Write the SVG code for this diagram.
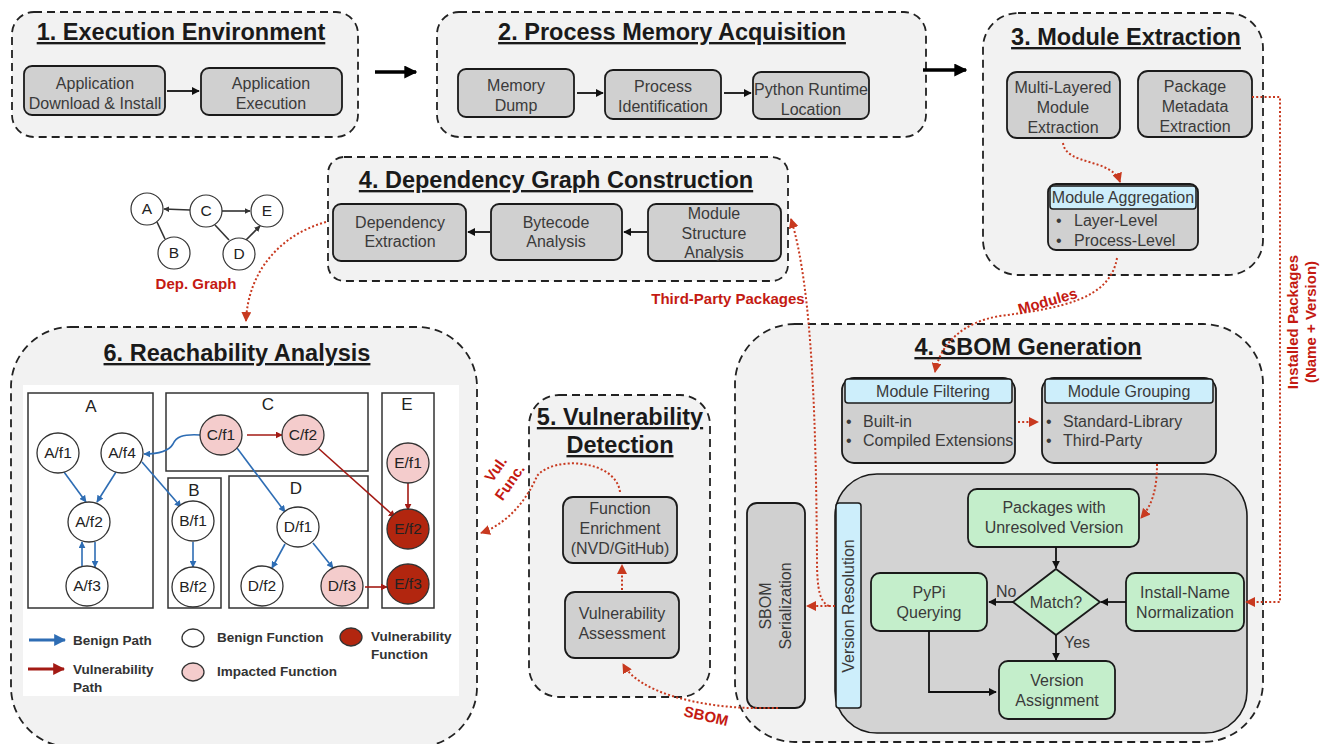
<svg xmlns="http://www.w3.org/2000/svg" width="1323" height="744" viewBox="0 0 1323 744">
<defs>
<style>
.stage{fill:#f2f2f2;stroke:#222;stroke-width:1.8;stroke-dasharray:8 5}
.box{fill:#d0d0d0;stroke:#1a1a1a;stroke-width:1.8}
.green{fill:#c4eecb;stroke:#1a1a1a;stroke-width:1.8}
.blue{fill:#cdeefb;stroke:#1a1a1a;stroke-width:1.5}
.title{font-family:"Liberation Sans",Arial,sans-serif;font-weight:bold;font-size:23.5px;fill:#1a1a1a;text-anchor:middle;text-decoration:underline}
.t{font-family:"Liberation Sans",Arial,sans-serif;font-size:16px;fill:#3a3a3a;text-anchor:middle}
.tl{font-family:"Liberation Sans",Arial,sans-serif;font-size:16px;fill:#3a3a3a}
.red{font-family:"Liberation Sans",Arial,sans-serif;font-weight:bold;font-size:15px;fill:#c41a12}
.leg{font-family:"Liberation Sans",Arial,sans-serif;font-weight:bold;font-size:13.5px;fill:#333}
.fn{font-family:"Liberation Sans",Arial,sans-serif;font-size:15.5px;fill:#222;text-anchor:middle}
.lbl{font-family:"Liberation Sans",Arial,sans-serif;font-size:17px;fill:#222;text-anchor:middle}
.arr{stroke:#111;stroke-width:1.8;fill:none;marker-end:url(#ah)}
.dot{stroke:#c8391f;stroke-width:2;stroke-dasharray:2 2.2;fill:none;marker-end:url(#ahr)}
.bl{stroke:#2e6db4;stroke-width:1.6;fill:none;marker-end:url(#ahb)}
.rd{stroke:#a31a14;stroke-width:1.6;fill:none;marker-end:url(#ahd)}
.nw{fill:#fff;stroke:#333;stroke-width:1.3}
.np{fill:#f4cccc;stroke:#333;stroke-width:1.3}
.nd{fill:#b2260f;stroke:#333;stroke-width:1.3}
.frame{fill:none;stroke:#333;stroke-width:1.5}
</style>
<marker id="ah" viewBox="0 0 10 10" refX="9" refY="5" markerWidth="8" markerHeight="8" markerUnits="userSpaceOnUse" orient="auto"><path d="M0,0 L10,5 L0,10 z" fill="#111"/></marker>
<marker id="ahbig" viewBox="0 0 10 10" refX="9" refY="5" markerWidth="13" markerHeight="13" markerUnits="userSpaceOnUse" orient="auto"><path d="M0,0 L10,5 L0,10 z" fill="#000"/></marker>
<marker id="ahr" viewBox="0 0 10 10" refX="9" refY="5" markerWidth="10" markerHeight="10" markerUnits="userSpaceOnUse" orient="auto"><path d="M0,0 L10,5 L0,10 z" fill="#c8391f"/></marker>
<marker id="ahb" viewBox="0 0 10 10" refX="9" refY="5" markerWidth="7" markerHeight="7" markerUnits="userSpaceOnUse" orient="auto"><path d="M0,0 L10,5 L0,10 z" fill="#2e6db4"/></marker>
<marker id="ahd" viewBox="0 0 10 10" refX="9" refY="5" markerWidth="7" markerHeight="7" markerUnits="userSpaceOnUse" orient="auto"><path d="M0,0 L10,5 L0,10 z" fill="#a31a14"/></marker>
<marker id="ahlegb" viewBox="0 0 10 10" refX="9" refY="5" markerWidth="12" markerHeight="12" markerUnits="userSpaceOnUse" orient="auto"><path d="M0,0 L10,5 L0,10 z" fill="#2e6db4"/></marker>
<marker id="ahlegr" viewBox="0 0 10 10" refX="9" refY="5" markerWidth="12" markerHeight="12" markerUnits="userSpaceOnUse" orient="auto"><path d="M0,0 L10,5 L0,10 z" fill="#a31a14"/></marker>
<marker id="ahg" viewBox="0 0 10 10" refX="9" refY="5" markerWidth="6" markerHeight="6" markerUnits="userSpaceOnUse" orient="auto"><path d="M0,0 L10,5 L0,10 z" fill="#333"/></marker>
</defs>
<rect width="1323" height="744" fill="#fff"/>

<!-- Stage 1 -->
<g id="stage1">
<rect class="stage" x="12" y="12" width="346" height="125" rx="22"/>
<text class="title" x="181" y="40">1. Execution Environment</text>
<g id="n-download"><rect class="box" x="24" y="66" width="141" height="49" rx="8"/><text class="t" x="95" y="89">Application</text><text class="t" x="95" y="109">Download &amp; Install</text></g>
<g id="n-exec"><rect class="box" x="201" y="68" width="141" height="47" rx="8"/><text class="t" x="271" y="89">Application</text><text class="t" x="271" y="109">Execution</text></g>
</g>

<!-- Stage 2 -->
<g id="stage2">
<rect class="stage" x="437" y="12" width="489" height="125" rx="22"/>
<text class="title" x="672" y="40">2. Process Memory Acquisition</text>
<g id="n-dump"><rect class="box" x="458" y="69" width="116" height="48" rx="8"/><text class="t" x="516" y="91">Memory</text><text class="t" x="516" y="111">Dump</text></g>
<g id="n-procid"><rect class="box" x="605" y="70" width="116" height="49" rx="8"/><text class="t" x="663" y="92">Process</text><text class="t" x="663" y="112">Identification</text></g>
<g id="n-pyloc"><rect class="box" x="753" y="72" width="116" height="47" rx="8"/><text class="t" x="811" y="95">Python Runtime</text><text class="t" x="811" y="115">Location</text></g>
</g>

<!-- Stage 3 -->
<g id="stage3">
<rect class="stage" x="983" y="13" width="280" height="262" rx="35"/>
<text class="title" x="1126" y="45">3. Module Extraction</text>
<g id="n-multilayer"><rect class="box" x="1007" y="72" width="113" height="66" rx="10"/><text class="t" x="1063" y="93">Multi-Layered</text><text class="t" x="1063" y="113">Module</text><text class="t" x="1063" y="133">Extraction</text></g>
<g id="n-pkgmeta"><rect class="box" x="1138" y="71" width="114" height="66" rx="10"/><text class="t" x="1195" y="92">Package</text><text class="t" x="1195" y="112">Metadata</text><text class="t" x="1195" y="132">Extraction</text></g>
<g id="n-aggr"><rect class="box" x="1048" y="184" width="150" height="66" rx="8"/><rect class="blue" x="1050" y="186" width="146" height="23" rx="3"/><text class="t" x="1123" y="203">Module Aggregation</text>
<text class="tl" x="1056" y="226">•</text><text class="tl" x="1074" y="226">Layer-Level</text>
<text class="tl" x="1056" y="246">•</text><text class="tl" x="1074" y="246">Process-Level</text></g>
</g>

<!-- Stage 4 dependency graph -->
<g id="stage4dep">
<rect class="stage" x="328" y="157" width="460" height="124" rx="16"/>
<text class="title" x="556" y="188">4. Dependency Graph Construction</text>
<g id="n-depext"><rect class="box" x="333" y="204" width="133" height="57" rx="8"/><text class="t" x="400" y="228">Dependency</text><text class="t" x="400" y="247">Extraction</text></g>
<g id="n-bytecode"><rect class="box" x="491" y="204" width="131" height="56" rx="8"/><text class="t" x="556" y="228">Bytecode</text><text class="t" x="556" y="247">Analysis</text></g>
<g id="n-modstruct"><rect class="box" x="648" y="204" width="133" height="57" rx="8"/><text class="t" x="714" y="219">Module</text><text class="t" x="714" y="239">Structure</text><text class="t" x="714" y="258">Analysis</text></g>
</g>

<!-- small dependency graph -->
<g id="depgraph">
<line x1="190" y1="210" x2="164" y2="209" stroke="#333" stroke-width="1.6" marker-end="url(#ahg)"/>
<line x1="221" y1="211" x2="250" y2="211" stroke="#333" stroke-width="1.6" marker-end="url(#ahg)"/>
<line x1="157" y1="222" x2="165" y2="239" stroke="#333" stroke-width="1.6"/>
<line x1="215" y1="225" x2="229" y2="240" stroke="#333" stroke-width="1.6"/>
<line x1="246" y1="240" x2="260" y2="226" stroke="#333" stroke-width="1.6" marker-end="url(#ahg)"/>
<circle cx="147" cy="209" r="16" fill="#fff" stroke="#333" stroke-width="1.2"/><text class="fn" x="147" y="214" font-size="13">A</text>
<circle cx="206" cy="211" r="16" fill="#fff" stroke="#333" stroke-width="1.2"/><text class="fn" x="206" y="216" font-size="13">C</text>
<circle cx="267" cy="211" r="16" fill="#fff" stroke="#333" stroke-width="1.2"/><text class="fn" x="267" y="216" font-size="13">E</text>
<circle cx="174" cy="253" r="16" fill="#fff" stroke="#333" stroke-width="1.2"/><text class="fn" x="174" y="258" font-size="13">B</text>
<circle cx="239" cy="254" r="16" fill="#fff" stroke="#333" stroke-width="1.2"/><text class="fn" x="239" y="259" font-size="13">D</text>
<text class="red" x="196" y="289" text-anchor="middle">Dep. Graph</text>
</g>

<!-- Stage 6 reachability -->
<g id="stage6">
<rect class="stage" x="11" y="327" width="466" height="420" rx="60"/>
<text class="title" x="237" y="361">6. Reachability Analysis</text>
<rect x="23" y="385" width="436" height="311" fill="#fff"/>
<rect class="frame" x="28" y="393" width="125" height="215"/><text class="lbl" x="91" y="412">A</text>
<rect class="frame" x="166" y="393" width="202" height="78"/><text class="lbl" x="268" y="410">C</text>
<rect class="frame" x="382" y="393" width="52" height="215"/><text class="lbl" x="407" y="410">E</text>
<rect class="frame" x="168" y="478" width="53" height="130"/><text class="lbl" x="194" y="496">B</text>
<rect class="frame" x="229" y="476" width="139" height="132"/><text class="lbl" x="296" y="494">D</text>
<g id="reach-edges">
<line class="bl" x1="64" y1="472" x2="86" y2="502"/>
<line class="bl" x1="116" y1="472" x2="97" y2="502"/>
<line class="bl" x1="82" y1="567" x2="82" y2="542"/>
<line class="bl" x1="95" y1="542" x2="95" y2="567"/>
<line class="bl" x1="142" y1="462" x2="181" y2="507"/>
<path class="bl" d="M200 435 C182 434 176 437 173 444 C169 451 158 454 144 454"/>
<line class="bl" x1="237" y1="448" x2="285" y2="512"/>
<line class="bl" x1="193" y1="542" x2="193" y2="567"/>
<line class="bl" x1="285" y1="544" x2="272" y2="568"/>
<line class="bl" x1="313" y1="543" x2="333" y2="568"/>
<line class="rd" x1="247" y1="435" x2="282" y2="435"/>
<line class="rd" x1="318" y1="448" x2="395" y2="517"/>
<line class="rd" x1="408" y1="483" x2="408" y2="510"/>
<line class="rd" x1="365" y1="587" x2="387" y2="587"/>
</g>
<g id="fn-Af1"><ellipse class="nw" cx="58" cy="453" rx="21" ry="20"/><text class="fn" x="58" y="458">A/f1</text></g>
<g id="fn-Af4"><ellipse class="nw" cx="122" cy="453" rx="21" ry="20"/><text class="fn" x="122" y="458">A/f4</text></g>
<g id="fn-Af2"><ellipse class="nw" cx="89" cy="522" rx="21" ry="20"/><text class="fn" x="89" y="527">A/f2</text></g>
<g id="fn-Af3"><ellipse class="nw" cx="87" cy="586" rx="21" ry="20"/><text class="fn" x="87" y="591">A/f3</text></g>
<g id="fn-Cf1"><ellipse class="np" cx="221" cy="435" rx="21" ry="20"/><text class="fn" x="221" y="440">C/f1</text></g>
<g id="fn-Cf2"><ellipse class="np" cx="303" cy="435" rx="21" ry="20"/><text class="fn" x="303" y="440">C/f2</text></g>
<g id="fn-Bf1"><ellipse class="nw" cx="193" cy="521" rx="21" ry="20"/><text class="fn" x="193" y="526">B/f1</text></g>
<g id="fn-Bf2"><ellipse class="nw" cx="193" cy="587" rx="21" ry="20"/><text class="fn" x="193" y="592">B/f2</text></g>
<g id="fn-Df1"><ellipse class="nw" cx="298" cy="527" rx="21" ry="20"/><text class="fn" x="298" y="532">D/f1</text></g>
<g id="fn-Df2"><ellipse class="nw" cx="262" cy="586" rx="21" ry="20"/><text class="fn" x="262" y="591">D/f2</text></g>
<g id="fn-Df3"><ellipse class="np" cx="342" cy="586" rx="21" ry="20"/><text class="fn" x="342" y="591">D/f3</text></g>
<g id="fn-Ef1"><ellipse class="np" cx="408" cy="463" rx="21" ry="20"/><text class="fn" x="408" y="468">E/f1</text></g>
<g id="fn-Ef2"><ellipse class="nd" cx="408" cy="529" rx="21" ry="20"/><text class="fn" x="408" y="534">E/f2</text></g>
<g id="fn-Ef3"><ellipse class="nd" cx="408" cy="584" rx="21" ry="20"/><text class="fn" x="408" y="589">E/f3</text></g>
<g id="legend">
<line x1="29" y1="640" x2="65" y2="640" stroke="#2e6db4" stroke-width="3" marker-end="url(#ahlegb)"/>
<text class="leg" x="73" y="645">Benign Path</text>
<line x1="28" y1="669" x2="64" y2="669" stroke="#a31a14" stroke-width="3" marker-end="url(#ahlegr)"/>
<text class="leg" x="73" y="674">Vulnerability</text><text class="leg" x="73" y="692">Path</text>
<ellipse class="nw" cx="193" cy="638" rx="11" ry="9"/><text class="leg" x="217" y="642">Benign Function</text>
<ellipse class="np" cx="193" cy="672" rx="11" ry="9"/><text class="leg" x="217" y="676">Impacted Function</text>
<ellipse class="nd" cx="351" cy="637" rx="11" ry="9"/><text class="leg" x="371" y="641">Vulnerability</text><text class="leg" x="371" y="659">Function</text>
</g>
</g>

<!-- Stage 5 -->
<g id="stage5">
<rect class="stage" x="529" y="395" width="181" height="302" rx="30"/>
<text class="title" x="620" y="425">5. Vulnerability</text>
<text class="title" x="620" y="453">Detection</text>
<g id="n-enrich"><rect class="box" x="563" y="497" width="114" height="66" rx="10"/><text class="t" x="620" y="514">Function</text><text class="t" x="620" y="534">Enrichment</text><text class="t" x="620" y="554">(NVD/GitHub)</text></g>
<g id="n-assess"><rect class="box" x="565" y="592" width="114" height="66" rx="10"/><text class="t" x="622" y="619">Vulnerability</text><text class="t" x="622" y="639">Assessment</text></g>
</g>

<!-- SBOM generation -->
<g id="stage4sbom">
<rect class="stage" x="735" y="324" width="528" height="418" rx="60"/>
<text class="title" x="1028" y="355">4. SBOM Generation</text>
<g id="n-filter"><rect class="box" x="842" y="378" width="173" height="85" rx="12"/><rect class="blue" x="845" y="379" width="167" height="24" rx="3"/><text class="t" x="933" y="397">Module Filtering</text>
<text class="tl" x="846" y="427">•</text><text class="tl" x="863" y="427">Built-in</text>
<text class="tl" x="846" y="446">•</text><text class="tl" x="863" y="446">Compiled Extensions</text></g>
<g id="n-group"><rect class="box" x="1042" y="378" width="174" height="85" rx="12"/><rect class="blue" x="1045" y="379" width="168" height="24" rx="3"/><text class="t" x="1129" y="397">Module Grouping</text>
<text class="tl" x="1046" y="427">•</text><text class="tl" x="1063" y="427">Standard-Library</text>
<text class="tl" x="1046" y="446">•</text><text class="tl" x="1063" y="446">Third-Party</text></g>
<rect x="835" y="474" width="412" height="259" rx="42" fill="#d3d3d3" stroke="#1a1a1a" stroke-width="1.6"/>
<g id="n-serial"><rect class="box" x="747" y="503" width="58" height="205" rx="10"/>
<text class="t" transform="translate(781 606) rotate(-90)" x="0" y="-10">SBOM</text><text class="t" transform="translate(781 606) rotate(-90)" x="0" y="10">Serialization</text></g>
<g id="n-verres"><rect class="blue" x="836" y="503" width="25" height="205" rx="3"/><text class="t" transform="translate(854 606) rotate(-90)" x="0" y="0">Version Resolution</text></g>
<g id="n-unresolved"><rect class="green" x="968" y="489" width="171" height="58" rx="9"/><text class="t" x="1054" y="513">Packages with</text><text class="t" x="1054" y="533">Unresolved Version</text></g>
<g id="n-match"><polygon class="green" points="1056,569 1100,602 1056,635 1013,602"/><text class="t" x="1056" y="608">Match?</text></g>
<g id="n-normalize"><rect class="green" x="1126" y="573" width="118" height="58" rx="9"/><text class="t" x="1185" y="598">Install-Name</text><text class="t" x="1185" y="618">Normalization</text></g>
<g id="n-pypi"><rect class="green" x="871" y="573" width="116" height="58" rx="9"/><text class="t" x="929" y="598">PyPi</text><text class="t" x="929" y="618">Querying</text></g>
<g id="n-assign"><rect class="green" x="999" y="661" width="116" height="58" rx="9"/><text class="t" x="1057" y="686">Version</text><text class="t" x="1057" y="706">Assignment</text></g>
<text class="tl" x="996" y="597">No</text>
<text class="tl" x="1064" y="648">Yes</text>
</g>

<!-- connectors -->
<g id="connectors">
<line class="arr" x1="167" y1="91" x2="199" y2="91"/>
<line class="arr" x1="577" y1="93" x2="603" y2="93"/>
<line class="arr" x1="724" y1="93" x2="751" y2="93"/>
<line x1="375" y1="72" x2="416" y2="72" stroke="#000" stroke-width="3.5" marker-end="url(#ahbig)"/>
<line x1="923" y1="70" x2="966" y2="70" stroke="#000" stroke-width="3.5" marker-end="url(#ahbig)"/>
<line class="arr" x1="490" y1="232" x2="468" y2="232"/>
<line class="arr" x1="647" y1="232" x2="624" y2="232"/>
<line class="arr" x1="1056" y1="547" x2="1056" y2="568"/>
<line class="arr" x1="1126" y1="602" x2="1101" y2="602"/>
<line class="arr" x1="1013" y1="602" x2="989" y2="602"/>
<line class="arr" x1="1056" y1="635" x2="1056" y2="660"/>
<path class="arr" d="M929 631 L929 692 L996 692"/>
<!-- red dotted -->
<path class="dot" d="M1063 143 C1066 166 1112 158 1120 182"/>
<path class="dot" d="M1252 97 L1280 97 L1280 602 L1246 602"/>
<path class="dot" d="M1117 258 C1110 300 1060 308 1000 316 C962 322 940 345 935 372"/>
<path class="dot" d="M1018 422 L1038 422"/>
<path class="dot" d="M1157 464 C1157 490 1152 505 1141 518"/>
<path class="dot" d="M835 606 L807 606"/>
<path class="dot" d="M829 606 C820 602 817 590 817 560 C816 430 813 290 791 219"/>
<path class="dot" d="M778 708 L748 708 C700 706 640 694 623 664"/>
<path class="dot" d="M622 590 L622 565"/>
<path class="dot" d="M620 492 C616 460 554 455 537 476 C527 500 507 524 481 533"/>
<path class="dot" d="M326 222 C282 234 248 270 246 321"/>
<!-- red labels -->
<text class="red" x="728" y="304" text-anchor="middle">Third-Party Packages</text>
<text class="red" x="0" y="0" text-anchor="middle" transform="translate(1049 306) rotate(-16)">Modules</text>
<text class="red" x="0" y="0" text-anchor="middle" transform="translate(1298 322) rotate(-90)">Installed Packages</text>
<text class="red" x="0" y="0" text-anchor="middle" transform="translate(1316 322) rotate(-90)">(Name + Version)</text>
<text class="red" x="0" y="0" text-anchor="middle" transform="translate(705 721) rotate(13)">SBOM</text>
<text class="red" x="0" y="0" text-anchor="middle" transform="translate(500 472) rotate(-55)">Vul.</text>
<text class="red" x="0" y="0" text-anchor="middle" transform="translate(514 485) rotate(-55)">Func.</text>
</g>
</svg>
